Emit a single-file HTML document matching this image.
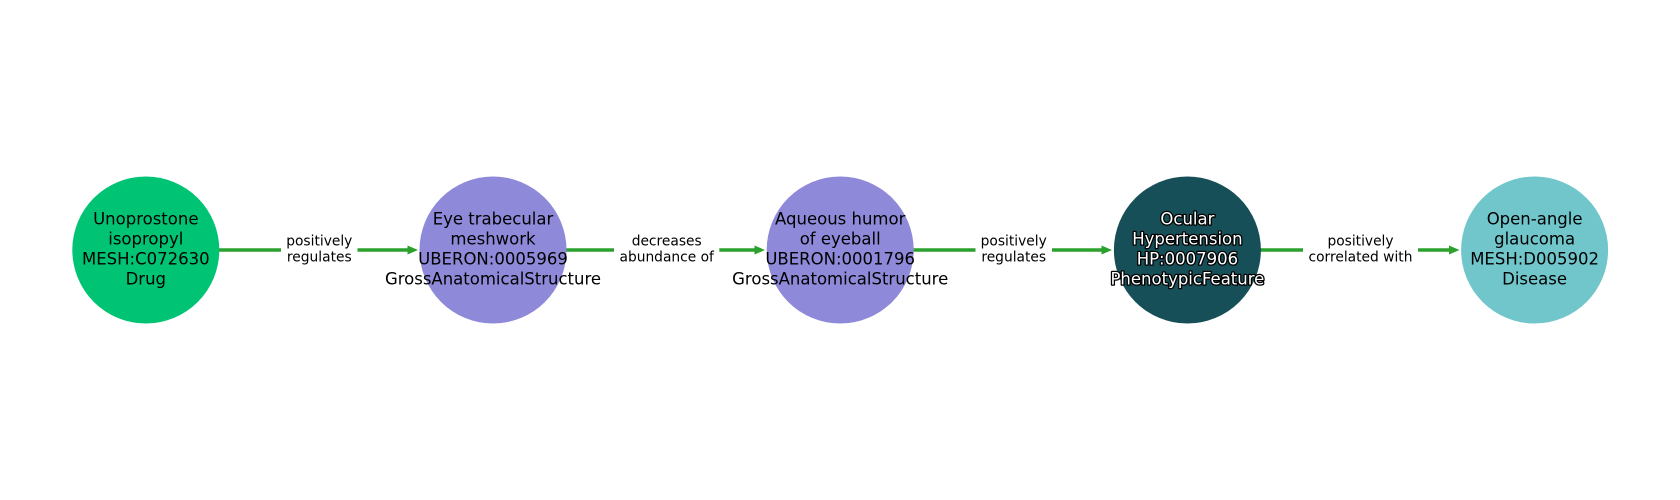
<!DOCTYPE html>
<html>
<head>
<meta charset="utf-8">
<style>
  html, body { margin: 0; padding: 0; background: #ffffff; }
  body { width: 1680px; height: 500px; overflow: hidden; }
  svg { display: block; }
  text { font-family: "DejaVu Sans", "Liberation Sans", sans-serif; }
  .nl { font-size: 16.5px; fill: #000; text-anchor: middle; }
  .el { font-size: 13.8px; fill: #000; text-anchor: middle; }
  .wl { font-size: 16.5px; fill: #fff; stroke: #000; stroke-width: 2.6px; paint-order: stroke; stroke-linejoin: round; text-anchor: middle; }
</style>
</head>
<body>
<svg width="1680" height="500" viewBox="0 0 1680 500" xmlns="http://www.w3.org/2000/svg">
  <rect x="0" y="0" width="1680" height="500" fill="#ffffff"/>

  <!-- edges -->
  <g stroke="#2ca02c" stroke-width="3.6" fill="none">
    <line x1="219" y1="250" x2="410" y2="250"/>
    <line x1="566" y1="250" x2="757" y2="250"/>
    <line x1="913" y1="250" x2="1104" y2="250"/>
    <line x1="1260" y1="250" x2="1452" y2="250"/>
  </g>
  <g fill="#2ca02c">
    <polygon points="407.5,245.5 418,250 407.5,254.5"/>
    <polygon points="754.5,245.5 765,250 754.5,254.5"/>
    <polygon points="1101.5,245.5 1112,250 1101.5,254.5"/>
    <polygon points="1449,245.5 1459.5,250 1449,254.5"/>
  </g>

  <!-- edge label boxes -->
  <g fill="#ffffff">
    <rect x="281" y="233" width="76.5" height="33" rx="4"/>
    <rect x="614" y="233" width="105.3" height="33" rx="4"/>
    <rect x="975.5" y="233" width="76.5" height="33" rx="4"/>
    <rect x="1303" y="233" width="115" height="33" rx="4"/>
  </g>
  <text class="el" x="319.3" y="245.7">positively</text>
  <text class="el" x="319.3" y="261.7">regulates</text>
  <text class="el" x="666.7" y="245.7">decreases</text>
  <text class="el" x="666.7" y="261.7">abundance of</text>
  <text class="el" x="1013.7" y="245.7">positively</text>
  <text class="el" x="1013.7" y="261.7">regulates</text>
  <text class="el" x="1360.5" y="245.7">positively</text>
  <text class="el" x="1360.5" y="261.7">correlated with</text>

  <!-- nodes -->
  <circle cx="145.8" cy="250" r="73.5" fill="#00c473"/>
  <circle cx="493" cy="250" r="73.5" fill="#8e89d8"/>
  <circle cx="840.2" cy="250" r="73.5" fill="#8e89d8"/>
  <circle cx="1187.4" cy="250" r="73.5" fill="#164f58"/>
  <circle cx="1534.6" cy="250" r="73.5" fill="#70c6cb"/>

  <!-- node labels -->
  <text class="nl" x="145.8" y="224.3">Unoprostone</text>
  <text class="nl" x="145.8" y="244.3">isopropyl</text>
  <text class="nl" x="145.8" y="264.3">MESH:C072630</text>
  <text class="nl" x="145.8" y="284.3">Drug</text>

  <text class="nl" x="493" y="224.3">Eye trabecular</text>
  <text class="nl" x="493" y="244.3">meshwork</text>
  <text class="nl" x="493" y="264.3">UBERON:0005969</text>
  <text class="nl" x="493" y="284.3">GrossAnatomicalStructure</text>

  <text class="nl" x="840.2" y="224.3">Aqueous humor</text>
  <text class="nl" x="840.2" y="244.3">of eyeball</text>
  <text class="nl" x="840.2" y="264.3">UBERON:0001796</text>
  <text class="nl" x="840.2" y="284.3">GrossAnatomicalStructure</text>

  <text class="wl" x="1187.4" y="224.3">Ocular</text>
  <text class="wl" x="1187.4" y="244.3">Hypertension</text>
  <text class="wl" x="1187.4" y="264.3">HP:0007906</text>
  <text class="wl" x="1187.4" y="284.3">PhenotypicFeature</text>

  <text class="nl" x="1534.6" y="224.3">Open-angle</text>
  <text class="nl" x="1534.6" y="244.3">glaucoma</text>
  <text class="nl" x="1534.6" y="264.3">MESH:D005902</text>
  <text class="nl" x="1534.6" y="284.3">Disease</text>
</svg>
</body>
</html>
